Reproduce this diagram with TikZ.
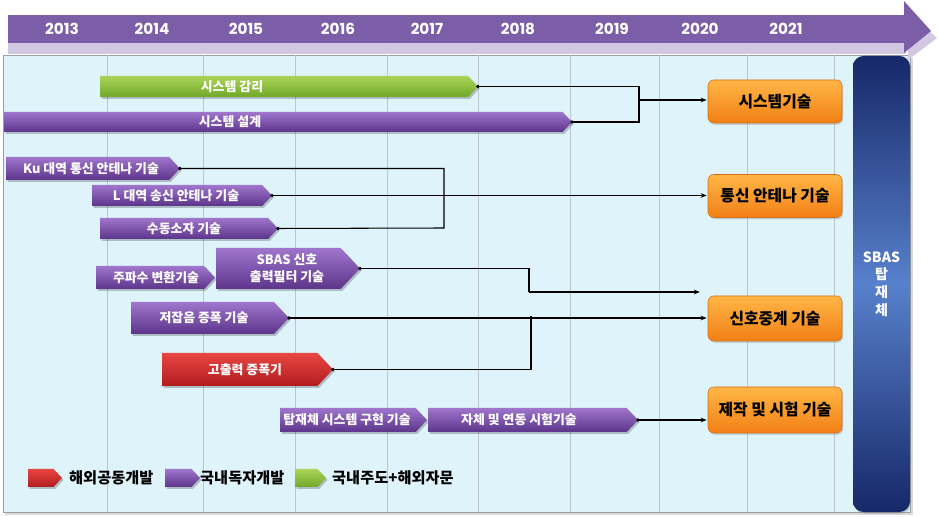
\documentclass[tikz,border=0pt]{standalone}
\usepackage{fontspec}
\setmainfont{Noto Sans CJK KR}
\newfontfamily\yearfont{Poppins}
\usetikzlibrary{calc,arrows.meta,shadows}
\definecolor{bandP}{RGB}{123,94,167}
\definecolor{bandL}{RGB}{210,200,226}
\definecolor{panelBg}{RGB}{222,243,250}
\definecolor{panelBd}{RGB}{150,160,166}
\definecolor{gridC}{RGB}{188,198,204}
\definecolor{pTop}{RGB}{160,118,205}
\definecolor{pBot}{RGB}{92,52,138}
\definecolor{gTop}{RGB}{170,212,90}
\definecolor{gBot}{RGB}{112,168,40}
\definecolor{rTop}{RGB}{232,70,66}
\definecolor{rBot}{RGB}{178,28,32}
\definecolor{oTop}{RGB}{255,182,70}
\definecolor{oBot}{RGB}{242,128,22}
\definecolor{oBd}{RGB}{215,110,20}
\definecolor{navy}{RGB}{22,40,104}
\definecolor{midBlue}{RGB}{88,128,204}
\tikzset{
  barpurple/.style={top color=pTop, bottom color=pBot},
  bargreen/.style={top color=gTop, bottom color=gBot},
  barred/.style={top color=rTop, bottom color=rBot},
  bartext/.style={text=white, align=center, inner sep=0pt,
    font=\bfseries\fontsize{11}{14.5}\selectfont},
  techbox/.style={rounded corners=5pt, top color=oTop, bottom color=oBot,
    draw=oBd, line width=0.5pt, minimum width=4.02cm, minimum height=1.29cm,
    font=\bfseries\fontsize{13.5}{16}\selectfont, text=black,
    drop shadow={opacity=0.3, shadow xshift=1pt, shadow yshift=-1.5pt}},
  yeartext/.style={text=white, font=\yearfont\bfseries\fontsize{13}{15}\selectfont},
  legtext/.style={anchor=west, inner sep=0pt, text=black,
    font=\bfseries\fontsize{13}{15}\selectfont},
  conn/.style={line width=0.9pt, black},
  arr/.style={conn, -{Stealth[length=5pt,width=4pt]}, shorten >=1pt},
  tipdot/.style={fill=black},
  gridline/.style={gridC, line width=0.6pt}
}
% #1 name, #2 x1, #3 y1, #4 x2 (tip), #5 y2, #6 style, #7 text x, #8 text
\newcommand\chev[8]{%
  \pgfmathsetmacro\chT{0.47*(#5-#3)}%
  \pgfmathsetmacro\chM{(#3+#5)/2}%
  \pgfmathsetmacro\chB{#4-\chT}%
  \fill[black, opacity=0.22] (#2+1.5,#3+2) -- (\chB+1.5,#3+2) -- (#4+1.5,\chM+2) -- (\chB+1.5,#5+2) -- (#2+1.5,#5+2) -- cycle;
  \path[#6] (#2,#3) -- (\chB,#3) -- (#4,\chM) -- (\chB,#5) -- (#2,#5) -- cycle;
  \coordinate (#1-tip) at (#4,\chM);
  \node[bartext] (#1) at (#7,\chM) {#8};
}
\begin{document}
\begin{tikzpicture}[x=0.03cm,y=-0.03cm]
\useasboundingbox (0,0) rectangle (938,517);
% panel
\fill[black,opacity=0.15] (5,58) rectangle (913,515);
\path[fill=panelBg, draw=panelBd, line width=0.6pt] (3,55) rectangle (910,512);
\foreach \gx in {107,203,295,387,478,570,659,747,834}
  \draw[gridline] (\gx,55) -- (\gx,512);
% top band
\fill[bandL] (8,43) rectangle (906,54);
\fill[bandL] (908,12) -- (937,38) -- (908,60) -- cycle;
\fill[bandP] (8,15) rectangle (906,43);
\fill[bandP] (904,1) -- (931,31) -- (904,53) -- cycle;
\node[yeartext] (y2013) at (62,29) {2013};
\node[yeartext] (y2014) at (152,29) {2014};
\node[yeartext] (y2015) at (246,29) {2015};
\node[yeartext] (y2016) at (338,29) {2016};
\node[yeartext] (y2017) at (427,29) {2017};
\node[yeartext] (y2018) at (518,29) {2018};
\node[yeartext] (y2019) at (612,29) {2019};
\node[yeartext] (y2020) at (700,29) {2020};
\node[yeartext] (y2021) at (786,29) {2021};
% payload bar
\node[rounded corners=9pt, top color=navy, bottom color=navy, middle color=midBlue,
  minimum width=1.71cm, minimum height=13.68cm, inner sep=0pt, align=center,
  text=white, font=\bfseries\fontsize{12}{14}\selectfont,
  drop shadow={opacity=0.3, shadow xshift=1pt, shadow yshift=-1.5pt}]
  (payload) at (881.5,284) {SBAS\\[1pt]탑\\[1pt]재\\[1pt]체};
% bars
\chev{sg}{100}{76}{478}{97}{bargreen}{232}{시스템 감리}
\chev{sd}{4}{112}{572}{132}{barpurple}{230}{시스템 설계}
\chev{ku}{6}{157}{180}{180}{barpurple}{91}{Ku 대역 통신 안테나 기술}
\chev{lb}{92}{185}{272}{206}{barpurple}{176}{L 대역 송신 안테나 기술}
\chev{pas}{100}{218}{278}{239}{barpurple}{184}{수동소자 기술}
\chev{fc}{96}{266}{215}{289}{barpurple}{156}{주파수 변환기술}
\chev{sf}{216}{248}{360}{289}{barpurple}{287}{SBAS 신호\\출력필터 기술}
\chev{lna}{131}{302}{289}{334}{barpurple}{204}{저잡음 증폭 기술}
\chev{hpa}{162}{353}{333}{386}{barred}{245}{고출력 증폭기}
\chev{sys}{280}{408}{427}{432}{barpurple}{347}{탑재체 시스템 구현 기술}
\chev{tst}{428}{408}{638}{432}{barpurple}{519}{자체 및 연동 시험기술}
% technology boxes
\node[techbox] (b1) at (775,101.5) {시스템기술};
\node[techbox] (b2) at (775,196) {통신 안테나 기술};
\node[techbox, minimum height=1.35cm] (b3) at (775,318.5) {신호중계 기술};
\node[techbox, minimum height=1.38cm] (b4) at (775,410) {제작 및 시험 기술};
% junction coordinates
\coordinate (j1) at (639,100);
\coordinate (j2) at (444,228);
\coordinate (j3) at (529,292);
\coordinate (e3) at (701,292);
\coordinate (j4) at (531,316);
% connectors
\draw[conn] (sg-tip) -| (j1);
\draw[conn] (sd-tip) -| (j1);
\draw[arr] (j1) -- (b1.west |- j1);
\draw[conn] (ku-tip) -| (j2) -- (pas-tip);
\draw[arr] (lb-tip) -- (b2.west |- lb-tip);
\draw[conn] (sf-tip) -| (j3);
\draw[arr] (j3) -- (e3);
\draw[arr] (lna-tip) -- (b3.west |- lna-tip);
\draw[conn] (hpa-tip) -| (j4);
\draw[arr] (tst-tip) -- (b4.west |- tst-tip);
\foreach \t in {sg,sd,ku,lb,pas,sf,lna,hpa,tst}
  \fill[tipdot] (\t-tip) circle (1.6pt);
% legend
\chev{lr}{28}{469}{62}{487}{barred}{42}{}
\node[legtext] (lrt) at (69,478) {해외공동개발};
\chev{lp}{165}{469}{200}{487}{barpurple}{180}{}
\node[legtext] (lpt) at (200,478) {국내독자개발};
\chev{lg}{295}{469}{326}{487}{bargreen}{308}{}
\node[legtext] (lgt) at (332,478) {국내주도+해외자문};
\end{tikzpicture}
\end{document}
